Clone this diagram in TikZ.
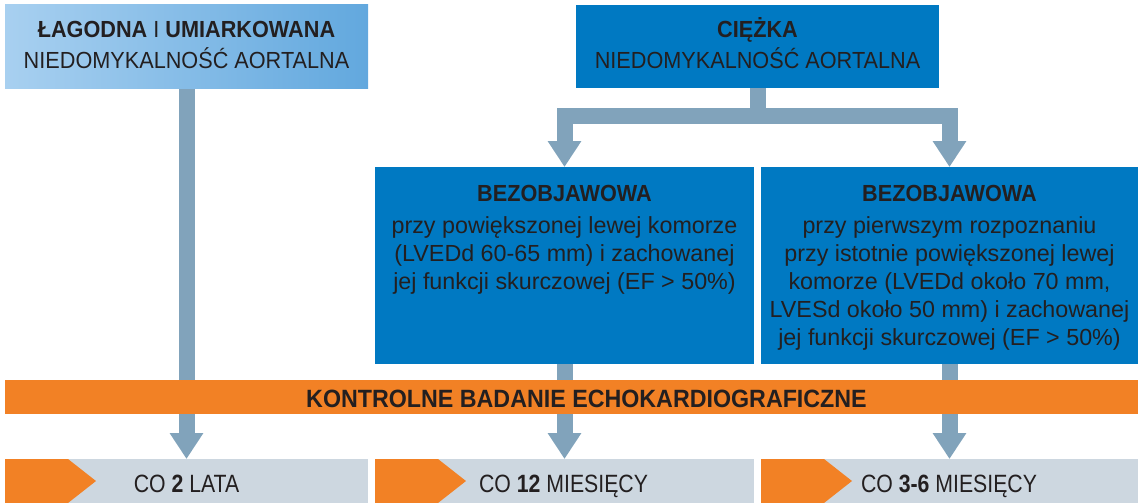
\documentclass[tikz,border=0pt]{standalone}
\usepackage{fontspec}
\setmainfont{Liberation Sans}
\newfontfamily\cndfam[FakeStretch=0.93]{Liberation Sans}
\newfontfamily\cndfamb[FakeStretch=0.85]{Liberation Sans}
\usetikzlibrary{arrows.meta}
\pgfdeclarelayer{bg}
\pgfsetlayers{bg,main}
\definecolor{lbA}{RGB}{168,208,240}
\definecolor{lbB}{RGB}{98,168,222}
\definecolor{dblue}{RGB}{0,121,194}
\definecolor{conn}{RGB}{129,163,187}
\definecolor{orng}{RGB}{242,129,37}
\definecolor{pale}{RGB}{205,215,224}
\definecolor{ink}{RGB}{35,31,32}
\newcommand\hdfont{\cndfam\fontsize{23.3}{32}\selectfont}
\newcommand\bdfont{\fontsize{23.3}{28}\selectfont}
\newcommand\brfont{\cndfam\bfseries\fontsize{25}{30}\selectfont}
\newcommand\btfont{\cndfamb\fontsize{25}{30}\selectfont}
\begin{document}
\begin{tikzpicture}[x=1pt,y=-1pt,
  box/.style={draw=none,inner sep=0pt,outer sep=0pt,anchor=center},
  txt/.style={inner sep=0pt,outer sep=0pt,text=ink,align=center},
  arr/.style={draw=conn,line width=16pt,line join=miter,-{Triangle[length=26pt,width=32pt]}},
  tag/.style={fill=orng}]
\useasboundingbox (0,0) rectangle (1140,503);
% top boxes
\node[box,left color=lbA,right color=lbB,minimum width=363pt,minimum height=83pt] (a) at (186.5,46.5) {};
\node[box,fill=dblue,minimum width=363pt,minimum height=83pt] (b) at (757.5,46.5) {};
% middle boxes
\node[box,fill=dblue,minimum width=379pt,minimum height=197pt] (m1) at (564.5,265.5) {};
\node[box,fill=dblue,minimum width=377pt,minimum height=197pt] (m2) at (949.5,265.5) {};
% orange bar
\node[box,fill=orng,minimum width=1133pt,minimum height=34pt] (k) at (571.5,397) {};
% bottom boxes
\node[box,fill=pale,minimum width=363pt,minimum height=44pt] (d1) at (186.5,481) {};
\node[box,fill=pale,minimum width=379pt,minimum height=44pt] (d2) at (564.5,481) {};
\node[box,fill=pale,minimum width=377pt,minimum height=44pt] (d3) at (949.5,481) {};
\foreach \d in {d1,d2,d3}{
  \fill[tag] (\d.north west) -- ++(63,0) -- ++(28,22) -- ++(-28,22) -- (\d.south west) -- cycle;
}
% connectors
\begin{pgfonlayer}{bg}
\draw[arr] (a.south) -- (d1.north);
\draw[arr] (b.south) -- ++(0,27.5) -| (m1.north);
\draw[arr] (b.south) -- ++(0,27.5) -| (m2.north);
\draw[arr] (m1.south) -- (d2.north);
\draw[arr] (m2.south) -- (d3.north);
\end{pgfonlayer}
% texts
\node[txt,font=\hdfont,anchor=north] (ta) at (186.5,13)
  {\rule{0pt}{24pt}\textbf{ŁAGODNA} I \textbf{UMIARKOWANA}\\NIEDOMYKALNOŚĆ AORTALNA};
\node[txt,font=\hdfont,anchor=north] (tb) at (757.5,13)
  {\rule{0pt}{24pt}\textbf{CIĘŻKA}\\NIEDOMYKALNOŚĆ AORTALNA};
\node[txt,font=\bdfont,anchor=north] (tm1) at (564.5,177)
  {\rule{0pt}{24pt}{\hdfont\bfseries BEZOBJAWOWA}\\[4pt]
   przy powiększonej lewej komorze\\
   (LVEDd 60-65 mm) i zachowanej\\
   jej funkcji skurczowej (EF > 50\%)};
\node[txt,font=\bdfont,anchor=north] (tm2) at (949.5,177)
  {\rule{0pt}{24pt}{\hdfont\bfseries BEZOBJAWOWA}\\[4pt]
   przy pierwszym rozpoznaniu\\
   przy istotnie powiększonej lewej\\
   komorze (LVEDd około 70 mm,\\
   LVESd około 50 mm) i zachowanej\\
   jej funkcji skurczowej (EF > 50\%)};
\node[txt,font=\brfont,anchor=base] (tk) at (586.5,407) {KONTROLNE BADANIE ECHOKARDIOGRAFICZNE};
\node[txt,font=\btfont,anchor=base] (t1) at (186.5,492) {CO \textbf{2} LATA};
\node[txt,font=\btfont,anchor=base] (t2) at (563.5,492) {CO \textbf{12} MIESIĘCY};
\node[txt,font=\btfont,anchor=base] (t3) at (949,492) {CO \textbf{3-6} MIESIĘCY};
\end{tikzpicture}
\end{document}
